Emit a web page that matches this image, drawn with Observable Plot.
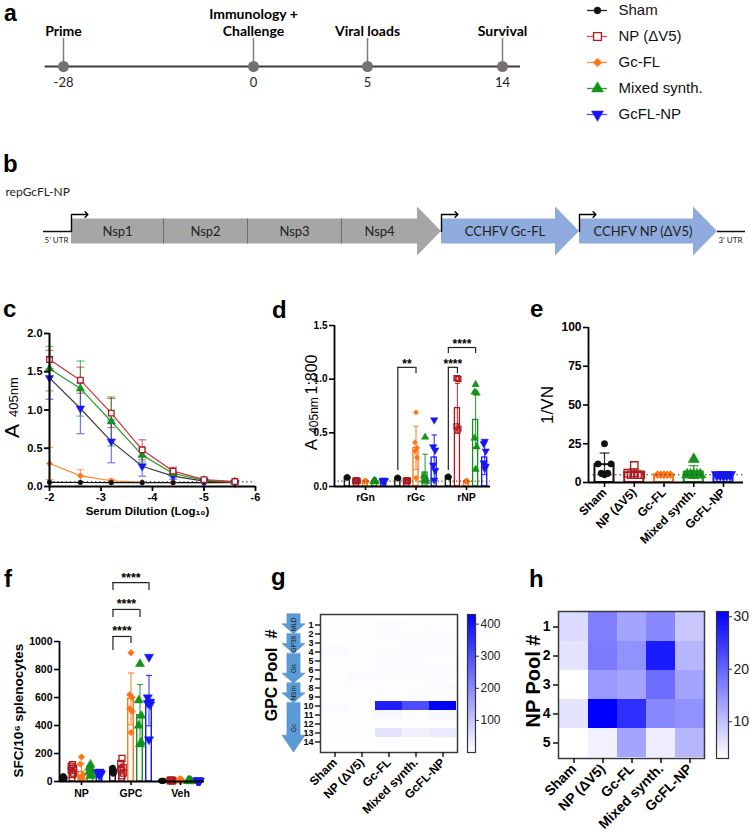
<!DOCTYPE html>
<html><head><meta charset="utf-8">
<script src="https://cdn.jsdelivr.net/npm/d3@7"></script>
<script src="https://cdn.jsdelivr.net/npm/@observablehq/plot@0.6"></script>
<style>
body{margin:0;background:#fff;}
#fig{position:relative;width:750px;height:833px;overflow:hidden;background:#fff;}
.tag{position:absolute;font:bold 24px "Liberation Sans",Arial,sans-serif;line-height:20px;color:#000;}
.tag.first{font-size:23px;line-height:26px;}
</style></head><body><div id="fig"></div>
<script>
// ================= DATA =================
const groupNames = ["Sham","NP (ΔV5)","Gc-FL","Mixed synth.","GcFL-NP"];
const groupColors = ["#111111","#b0191e","#ff7417","#13931b","#1616f5"];

// a: timeline
const timelineDays = [-28, 0, 5, 14];
const timelineEvents = ["Prime","Immunology +\nChallenge","Viral loads","Survival"];
const timelineExtent = [-30.7, 15.2];

// b: construct
const constructName = "repGcFL-NP";
const replicaseParts = ["Nsp1","Nsp2","Nsp3","Nsp4"];
const replicaseBounds = [71,163,247,341,441];
const antigenParts = ["CCHFV Gc-FL","CCHFV NP (ΔV5)"];
const antigenBounds = [441,579,717];
const utrLabels = ["5’ UTR","3’ UTR"];

// c: ELISA titration
const cDilution = [-2, -2.6, -3.2, -3.8, -4.4, -5.0, -5.6];
const cSham   = [0.055,0.052,0.05,0.05,0.05,0.05,0.055];
const cShamSd = [0,0,0,0,0,0,0];
const cNP     = [1.66,1.39,0.96,0.48,0.20,0.09,0.065];
const cNPSd   = [0.12,0.17,0.19,0.13,0.05,0.02,0.01];
const cGc     = [0.30,0.14,0.075,0.055,0.052,0.05,0.05];
const cGcSd   = [0.21,0.08,0.02,0,0,0,0];
const cMix    = [1.54,1.28,0.85,0.41,0.17,0.08,0.06];
const cMixSd  = [0.29,0.36,0.32,0.09,0.04,0.01,0.01];
const cGcNP   = [1.42,1.02,0.59,0.265,0.135,0.07,0.05];
const cGcNPSd = [0.28,0.33,0.28,0.13,0.04,0.01,0.01];
const cCutoff = 0.06;

// d: ELISA 1:800
const dGroups = ["rGn","rGc","rNP"];
const dMeanSham = [0.085,0.08,0.09];  const dSdSham = [0.01,0.01,0.012];
const dMeanNP   = [0.055,0.055,0.73]; const dSdNP   = [0.005,0.005,0.23];
const dMeanGc   = [0.05,0.36,0.05];   const dSdGc   = [0.005,0.2,0.005];
const dMeanMix  = [0.05,0.13,0.62];   const dSdMix  = [0.005,0.17,0.26];
const dMeanGcNP = [0.055,0.27,0.27];  const dSdGcNP = [0.005,0.21,0.16];
const dPtsSham = [[0.095,0.09,0.085,0.08,0.08,0.075],[0.09,0.085,0.08,0.075,0.075,0.07],[0.1,0.095,0.09,0.085,0.085,0.08]];
const dPtsNP   = [[0.06,0.055,0.055,0.05,0.05,0.05],[0.06,0.055,0.055,0.05,0.05,0.05],[1.01,1.01,1.0,0.56,0.54,0.52]];
const dPtsGc   = [[0.055,0.05,0.05,0.045,0.045,0.045],[0.69,0.41,0.36,0.33,0.27,0.08],[0.055,0.05,0.05,0.045,0.045,0.045]];
const dPtsMix  = [[0.055,0.05,0.05,0.045,0.045,0.045],[0.46,0.1,0.07,0.06,0.05,0.05],[0.95,0.88,0.87,0.45,0.37,0.16]];
const dPtsGcNP = [[0.06,0.055,0.055,0.05,0.05,0.05],[0.62,0.37,0.34,0.2,0.15,0.06],[0.42,0.4,0.33,0.22,0.19,0.17]];
const dCutoff = 0.05;
const dBrGroup = [1,2,2], dBrFrom = [0,0,0], dBrTo = [2,1,3];
const dBrY = [1.11,1.11,1.295], dBrLeft = [0.15,0.15,1.24], dBrRight = [1.05,1.05,1.24];
const dBrLabel = ["**","****","****"];

// e: neutralisation
const eMean = [11.5,6.3,5.0,6.7,5.0];
const eSd   = [7.5,2.4,0,4.1,0];
const ePtsSham = [25,12,12,6,6,5];
const ePtsNP   = [11,6,5,5,5,5];
const ePtsGc   = [5,5,5,5,5,5];
const ePtsMix  = [15,5,5,5,5,5];
const ePtsGcNP = [5,5,5,5,5,5];
const eCutoff = 5;

// f: ELISpot
const fGroups = ["NP","GPC","Veh"];
const fMeanSham = [29,77,5];    const fSdSham = [8,18,1];
const fMeanNP   = [86,97,8];    const fSdNP   = [30,45,3];
const fMeanGc   = [68,590,11];  const fSdGc   = [60,185,7];
const fMeanMix  = [77,473,4];   const fSdMix  = [30,220,2];
const fMeanGcNP = [58,578,6];   const fSdGcNP = [10,180,2];
const fPtsSham = [[40,35,30,25,22,20],[100,95,80,70,60,55],[5,5,5,5,5,5]];
const fPtsNP   = [[120,110,95,80,60,50],[165,130,100,90,60,40],[10,10,8,5,5,5]];
const fPtsGc   = [[175,125,45,30,20,15],[920,620,600,520,500,350],[20,15,10,5,5,5]];
const fPtsMix  = [[120,100,80,70,50,40],[840,580,470,400,280,265],[5,5,5,5,3,3]];
const fPtsGcNP = [[70,65,60,55,50,45],[890,600,570,560,550,300],[8,8,5,5,5,5]];
const fBrGroup = [1,1,1], fBrFrom = [0,0,0], fBrTo = [2,3,4];
const fBrY = [1036,1229,1421], fBrLeft = [936,1171,1364], fBrRight = [986,1171,1364];
const fBrLabel = ["****","****","****"];

// g: GPC pools heatmap
const gPoolLabels = ["1","2","3","4","5","6","7","8","9","10","11","12","13","14"];
const gSham = [2,3,2,8,3,2,3,3,4,6,3,2,3,2];
const gNP   = [2,2,2,2,4,4,6,3,2,3,2,4,2,2];
const gGc   = [5,6,4,5,6,8,4,5,4,380,15,4,45,3];
const gMix  = [3,4,8,5,5,8,4,5,4,300,3,3,25,3];
const gGcNP = [3,6,7,6,4,7,4,6,4,430,10,4,35,3];
const gColorDomain = [0,430];
const gColorTicks = [100,200,300,400];
const gRegionNames = ["MLD","GP38","Gn","NSm","Gc"];
const gRegionStart = [1,3,5,8,10];
const gRegionEnd   = [2,4,7,9,14];

// h: NP pools heatmap
const hPoolLabels = ["1","2","3","4","5"];
const hSham = [7,6,3,6,3];
const hNP   = [17,17.5,14,31,4.5];
const hGc   = [13,15,13,26,13];
const hMix  = [16,28,19,16,5];
const hGcNP = [9,11,13,15,11];
const hColorDomain = [3,31];
const hColorTicks = [10,20,30];

// ================= HELPERS =================
const FONT = "'Liberation Sans', Arial, Helvetica, sans-serif";
const CAL = "Lato, 'Open Sans', sans-serif";
const fig = document.getElementById("fig");
function place(node, left, top){ node.style.position="absolute"; node.style.left=left+"px"; node.style.top=top+"px"; fig.appendChild(node); }
function st(extra){ return Object.assign({background:"transparent", overflow:"visible", fontFamily:FONT, fontSize:"10px", fontWeight:"bold", color:"#000", maxWidth:"none"}, extra||{}); }
function tag(t, left, top, cls){ const d=document.createElement("div"); d.className="tag"+(cls?" "+cls:""); d.textContent=t; d.style.left=left+"px"; d.style.top=top+"px"; fig.appendChild(d); }
const S3 = Math.sqrt(3);
const symTriDown = {draw(ctx,size){const y=Math.sqrt(size/(S3*3)); ctx.moveTo(0,2*y); ctx.lineTo(-S3*y,-y); ctx.lineTo(S3*y,-y); ctx.closePath();}};
const symCap = {draw(ctx,size){const w=Math.sqrt(size)/2; ctx.moveTo(-w,0); ctx.lineTo(w,0);}};
const groupSymbols = ["circle","square","diamond2","triangle",symTriDown];
const groupFill = [true,false,true,true,true];
const symScale = [1,1.3,1.15,1.3,1.3];
function dotMark(data, s, r, extra, openFill){
  const c = groupColors[s];
  return Plot.dot(data, Object.assign({symbol:groupSymbols[s], r:r*symScale[s], fill: groupFill[s]? c : (openFill||"none"), stroke:c, strokeWidth: groupFill[s]?0.5:1.3}, extra));
}
function grouped(means, sds, pts, offset){
  const bars=[], dots=[];
  means.forEach((m,s)=>m.forEach((v,g)=>{
    const x = g + (s-2)*offset;
    bars.push({s, g, x, mean:v, lo:Math.max(0,v-sds[s][g]), hi:v+sds[s][g]});
    pts[s][g].forEach((p,k)=>dots.push({s, g, x, k, v:p}));
  }));
  return {bars, dots};
}
function brackets(gi, from, to, yTop, left, right, labels, offset, fs, dy){
  const rows = gi.map((g,i)=>({x1:g+(from[i]-2)*offset, x2:g+(to[i]-2)*offset, y:yTop[i], l:left[i], r:right[i], label:labels[i]}));
  const o = {stroke:"#222", strokeWidth:1.2};
  return [
    Plot.ruleY(rows, Object.assign({x1:"x1", x2:"x2", y:"y"}, o)),
    Plot.ruleX(rows, Object.assign({x:"x1", y1:"l", y2:"y"}, o)),
    Plot.ruleX(rows, Object.assign({x:"x2", y1:"r", y2:"y"}, o)),
    Plot.text(rows, {x:d=>(d.x1+d.x2)/2, y:"y", text:"label", dy, fontSize:fs, fontWeight:"bold", lineAnchor:"middle"})
  ];
}
function errMarks(bars, r, opacity){
  const c = d=>groupColors[d.s];
  const o = {stroke:c, strokeOpacity:opacity, strokeWidth:1.2};
  const e = bars.filter(d=>d.hi-d.lo>1e-9);
  return [
    Plot.ruleX(e, Object.assign({x:"x", y1:"lo", y2:"hi"}, o)),
    Plot.dot(e, Object.assign({x:"x", y:"hi", symbol:symCap, r}, o)),
    Plot.dot(e, Object.assign({x:"x", y:"lo", symbol:symCap, r}, o))
  ];
}
function vTitle(t, anchor, dx, dy, fontSize, fontWeight){
  return Plot.text([t], {text:d=>d, frameAnchor:anchor, textAnchor:"middle", lineAnchor:"middle", dx, dy, rotate:-90, fontSize, fontWeight});
}

// ================= PANEL a =================
{
  const tScale = d3.scaleLinear().domain(timelineDays).range([63,253,367,502]);
  place(Plot.plot({
    width:560, height:100, margin:0,
    x:{type:"identity", axis:null},
    y:{type:"identity", axis:null},
    style:st({fontFamily:CAL}),
    marks:[
      Plot.ruleX(timelineDays, {x:d=>tScale(d), y1:38, y2:66, stroke:"#7f7f7f", strokeWidth:1.5}),
      Plot.ruleY([66], {x1:tScale(timelineExtent[0]), x2:tScale(timelineExtent[1]), stroke:"#3b3b3b", strokeWidth:2}),
      Plot.dot(timelineDays, {x:d=>tScale(d), y:66, r:5.5, fill:"#767171", stroke:"none"}),
      Plot.text(timelineEvents, {x:(d,i)=>tScale(timelineDays[i]), y:35, text:d=>d, lineAnchor:"bottom", fontSize:14, fontWeight:"bold", lineHeight:1.2, fill:"#000"}),
      Plot.text(timelineDays, {x:d=>tScale(d), y:82, text:d=>String(d), fontSize:13, fontWeight:"normal", fill:"#222"})
    ]
  }), 0, 0);
}

// legend
place(Plot.plot({
  width:170, height:125, margin:0,
  x:{domain:[0,1], range:[7,27], axis:null},
  y:{type:"point", domain:groupNames, range:[9,114], padding:0, axis:null},
  style:st({fontWeight:"normal"}),
  marks:[
    Plot.ruleY(groupNames, {y:d=>d, x1:0, x2:1, stroke:(d,i)=>["#222","#d04a4a","#ff8a3a","#2a9d2a","#5050ff"][i], strokeWidth:1.3}),
    ...groupNames.map((n,s)=>dotMark([n], s, 3.4, {x:0.5, y:d=>d}, "white")),
    Plot.text(groupNames, {x:1, y:d=>d, dx:11, text:d=>d, textAnchor:"start", fontSize:15, fontWeight:"normal", fill:"#111"})
  ]
}), 580, 0);
tag("a", 4, 0, "first");

// ================= PANEL b =================
{
  const arrows = [];
  const starts = [replicaseBounds[0], antigenBounds[0], antigenBounds[1]];
  const ends = [replicaseBounds[replicaseBounds.length-1], antigenBounds[1], antigenBounds[2]];
  const c = 81;
  starts.forEach((a,i)=>{
    const e = ends[i];
    arrows.push({z:i,x:a,y1:c-12.5,y2:c+12.5},{z:i,x:e-24,y1:c-12.5,y2:c+12.5},{z:i,x:e-24,y1:c-24.5,y2:c+24.5},{z:i,x:e,y1:c,y2:c});
  });
  const fills = ["#a6a6a6","#8faadc","#8faadc"];
  const prom = starts.flatMap((a,i)=>[{z:i,x:a,y:c},{z:i,x:a,y:c-17},{z:i,x:a+15,y:c-17}]);
  const repLabels = replicaseParts.map((n,i)=>({n, x: i<3 ? (replicaseBounds[i]+replicaseBounds[i+1])/2 : (replicaseBounds[i]+replicaseBounds[i+1]-24)/2}));
  const agLabels = antigenParts.map((n,i)=>({n, x: antigenBounds[i] + 0.46*(antigenBounds[i+1]-antigenBounds[i])}));
  place(Plot.plot({
    width:750, height:120, margin:0,
    x:{domain:[0,750], range:[0,750], axis:null},
    y:{domain:[0,120], range:[0,120], axis:null},
    style:st({fontFamily:CAL, fontWeight:"normal"}),
    marks:[
      Plot.text([constructName], {x:5, y:42, text:d=>d, textAnchor:"start", fontSize:12, fill:"#222"}),
      Plot.ruleY([c], {x1:43, x2:starts[0], stroke:"#111", strokeWidth:1.5}),
      Plot.ruleY([c], {x1:ends[2], x2:745, stroke:"#111", strokeWidth:1.5}),
      ...[0,1,2].map(i=>Plot.area(arrows.filter(d=>d.z===i), {x1:"x", x2:"x", y1:"y1", y2:"y2", fill:fills[i]})),
      Plot.ruleX(replicaseBounds.slice(1,4), {x:d=>d, y1:c-12.5, y2:c+12.5, stroke:"#6e6e6e", strokeWidth:1}),
      Plot.line(prom, {x:"x", y:"y", z:"z", stroke:"#000", strokeWidth:1.4, markerEnd:"arrow"}),
      Plot.text(repLabels, {x:"x", y:c, text:"n", fontSize:13, fill:"#222"}),
      Plot.text(agLabels, {x:"x", y:c, text:"n", fontSize:13, fill:"#222"}),
      Plot.text([utrLabels[0]], {x:56, y:90, text:d=>d, fontSize:8, fill:"#222"}),
      Plot.text([utrLabels[1]], {x:730, y:90, text:d=>d, fontSize:8, fill:"#222"})
    ]
  }), 0, 150);
}
tag("b", 3, 154);

// ================= PANEL c =================
{
  const ms = [cSham,cNP,cGc,cMix,cGcNP], sds = [cShamSd,cNPSd,cGcSd,cMixSd,cGcNPSd];
  const lineCol = ["#111","#d03236","#ff7f27","#2a9d2a","#3c3c3c"];
  const rows = ms.flatMap((m,s)=>cDilution.map((x,i)=>({s, x, y:m[i], lo:Math.max(0,m[i]-sds[s][i]), hi:m[i]+sds[s][i]})));
  const order = [2,0,4,3,1];
  place(Plot.plot({
    width:280, height:240, marginLeft:49, marginRight:25, marginTop:43, marginBottom:44,
    x:{domain:[-2,-6]}, y:{domain:[0,2]}, color:{type:"identity"},
    style:st({fontSize:"11px"}),
    marks:[
      Plot.ruleY([cCutoff], {x1:-2, x2:-6, stroke:"#222", strokeDasharray:"1.2,3", strokeWidth:1.3}),
      ...errMarks(rows, 4.5, 0.6),
      ...order.map(s=>Plot.line(rows.filter(d=>d.s===s), {x:"x", y:"y", stroke:lineCol[s], strokeWidth:1.2})),
      ...order.map(s=>dotMark(rows.filter(d=>d.s===s), s, 2.4, {x:"x", y:"y"}, "white")),
      Plot.ruleX([-2], {y1:0, y2:2, stroke:"#000", strokeWidth:2}),
      Plot.ruleY([0], {stroke:"#000", strokeWidth:2}),
      Plot.axisY({ticks:[0,0.5,1,1.5,2], tickFormat:d3.format(".1f"), tickSize:5, tickPadding:2, strokeWidth:1.8, label:null}),
      Plot.axisX({ticks:[-2,-3,-4,-5,-6], tickFormat:d=>String(d), tickSize:5, tickPadding:2, strokeWidth:1.8, label:null}),
      Plot.text(["Serum Dilution (Log₁₀)"], {text:d=>d, frameAnchor:"bottom", dx:-5, dy:28, fontSize:11.5, fontWeight:"bold"}),
      vTitle("A", "left", -37, 21, 21, "normal"),
      vTitle("405nm", "left", -36, -13, 13, "normal")
    ]
  }), 0, 290);
}
tag("c", 3, 299);

// ================= PANEL d =================
{
  const off = 0.18, half = 0.05;
  const {bars, dots} = grouped([dMeanSham,dMeanNP,dMeanGc,dMeanMix,dMeanGcNP],[dSdSham,dSdNP,dSdGc,dSdMix,dSdGcNP],[dPtsSham,dPtsNP,dPtsGc,dPtsMix,dPtsGcNP], off);
  const jit = [0,-0.02,0.02,-0.02,0.02,0];
  dots.forEach(d=>d.px = d.x + jit[d.k]);
  place(Plot.plot({
    width:240, height:230, marginLeft:54, marginRight:30, marginTop:35, marginBottom:34,
    x:{domain:[-0.614,2.475]}, y:{domain:[0,1.5]}, color:{type:"identity"},
    style:st(),
    marks:[
      Plot.rect(bars, {x1:d=>d.x-half, x2:d=>d.x+half, y1:0, y2:"mean", fill:"white", stroke:d=>groupColors[d.s], strokeWidth:1.3}),
      ...errMarks(bars, 3, 0.8),
      ...[0,1,2,3,4].map(s=>dotMark(dots.filter(d=>d.s===s), s, 2.1, {x:"px", y:"v"})),
      Plot.ruleY([dCutoff], {stroke:"#444", strokeDasharray:"1.2,2.5", strokeWidth:1.1}),
      ...brackets(dBrGroup, dBrFrom, dBrTo, dBrY, dBrLeft, dBrRight, dBrLabel, off, 12, -3),
      Plot.ruleX([-0.614], {y1:0, y2:1.5, stroke:"#000", strokeWidth:1.8}),
      Plot.ruleY([0], {stroke:"#000", strokeWidth:1.8}),
      Plot.axisY({ticks:[0,0.5,1,1.5], tickFormat:d3.format(".1f"), tickSize:5, tickPadding:2, strokeWidth:1.6, label:null}),
      Plot.axisX({ticks:[0,1,2], tickFormat:i=>dGroups[i], tickSize:4, tickPadding:3, strokeWidth:1.6, label:null, fontSize:10.5}),
      vTitle("A", "top-left", -23, 119, 17, "normal"),
      vTitle("405nm", "top-left", -20, 90, 12, "normal"),
      vTitle("1:800", "top-left", -22.5, 49, 16, "normal")
    ]
  }), 280, 290);
}
tag("d", 272, 300);

// ================= PANEL e =================
{
  const pts = [ePtsSham,ePtsNP,ePtsGc,ePtsMix,ePtsGcNP];
  const half = 0.32;
  const bars = eMean.map((m,s)=>({s, x:s, mean:m, lo:Math.max(0,m-eSd[s]), hi:m+eSd[s]}));
  const jit = [0,-0.22,0.22,-0.11,0.11,0];
  const dots = pts.flatMap((arr,s)=>arr.map((v,k)=>({s, v, px:s+jit[k]})));
  place(Plot.plot({
    width:240, height:260, marginLeft:78, marginRight:7, marginTop:37, marginBottom:68,
    x:{domain:[-0.538,4.672]}, y:{domain:[0,100]}, color:{type:"identity"},
    style:st({fontSize:"12px"}),
    marks:[
      Plot.rect(bars, {x1:d=>d.x-half, x2:d=>d.x+half, y1:0, y2:"mean", fill:"white", stroke:d=>groupColors[d.s], strokeWidth:2}),
      ...errMarks(bars, 5.5, 0.9),
      ...[0,1,2,3,4].map(s=>dotMark(dots.filter(d=>d.s===s), s, 3.2, {x:"px", y:"v"})),
      Plot.ruleY([eCutoff], {stroke:"#333", strokeDasharray:"1.5,3", strokeWidth:1.2}),
      Plot.ruleX([-0.538], {y1:0, y2:100, stroke:"#000", strokeWidth:1.8}),
      Plot.ruleY([0], {stroke:"#000", strokeWidth:1.8}),
      Plot.axisY({ticks:[0,25,50,75,100], tickSize:5, tickPadding:2, strokeWidth:1.6, label:null}),
      Plot.axisX({ticks:[0,1,2,3,4], tickFormat:i=>groupNames[i], tickRotate:-45, tickSize:5, tickPadding:3, strokeWidth:1.6, label:null, fontSize:12}),
      vTitle("1/VN", "left", -41, 0, 17, "normal")
    ]
  }), 510, 290);
}
tag("e", 530, 299);

// ================= PANEL f =================
{
  const off = 0.182, half = 0.056;
  const {bars, dots} = grouped([fMeanSham,fMeanNP,fMeanGc,fMeanMix,fMeanGcNP],[fSdSham,fSdNP,fSdGc,fSdMix,fSdGcNP],[fPtsSham,fPtsNP,fPtsGc,fPtsMix,fPtsGcNP], off);
  const jit = [0,-0.025,0.025,-0.025,0.025,0];
  dots.forEach(d=>d.px = d.x + jit[d.k]);
  place(Plot.plot({
    width:260, height:300, marginLeft:59, marginRight:56, marginTop:111, marginBottom:49,
    x:{domain:[-0.444,2.485]}, y:{domain:[0,1000]}, color:{type:"identity"},
    style:st({fontSize:"10.5px"}),
    marks:[
      Plot.rect(bars, {x1:d=>d.x-half, x2:d=>d.x+half, y1:0, y2:"mean", fill:"white", stroke:d=>groupColors[d.s], strokeWidth:1.4}),
      ...errMarks(bars, 3.5, 0.8),
      ...[0,1,2,3,4].map(s=>dotMark(dots.filter(d=>d.s===s), s, 2.6, {x:"px", y:"v"})),
      ...brackets(fBrGroup, fBrFrom, fBrTo, fBrY, fBrLeft, fBrRight, fBrLabel, off, 12.5, -5),
      Plot.ruleX([-0.444], {y1:0, y2:1000, stroke:"#000", strokeWidth:1.8}),
      Plot.ruleY([0], {stroke:"#000", strokeWidth:1.8}),
      Plot.axisY({ticks:[0,200,400,600,800,1000], tickFormat:d=>String(d), tickSize:5, tickPadding:2, strokeWidth:1.6, label:null}),
      Plot.axisX({ticks:[0,1,2], tickFormat:i=>fGroups[i], tickSize:4, tickPadding:4, strokeWidth:1.6, label:null}),
      vTitle("SFC/10⁶ splenocytes", "left", -41, -1, 13.5, "bold")
    ]
  }), 0, 530);
}
tag("f", 4, 569);

// ================= PANEL g =================
{
  const cols = [gSham,gNP,gGc,gMix,gGcNP];
  const rows = cols.flatMap((col,s)=>col.map((v,i)=>({group:groupNames[s], pool:gPoolLabels[i], v})));
  place(Plot.plot({
    width:250, height:300, marginLeft:70, marginRight:43, marginTop:84, marginBottom:78,
    x:{type:"band", domain:groupNames, padding:0}, y:{type:"band", domain:gPoolLabels, padding:0},
    color:{type:"linear", domain:gColorDomain, range:["#ffffff","#0000ff"], interpolate:"rgb"},
    style:st(),
    marks:[
      Plot.cell(rows, {x:"group", y:"pool", fill:"v", inset:0, shapeRendering:"crispEdges"}),
      Plot.frame({stroke:"#3a3a3a", strokeWidth:1.5}),
      Plot.axisY({tickSize:5, tickPadding:2, strokeWidth:1.3, label:null, fontSize:9}),
      Plot.axisX({tickRotate:-45, tickSize:5, tickPadding:3, strokeWidth:1.3, label:null, fontSize:12}),
      vTitle("GPC Pool  #", "left", -49, -8, 16, "bold")
    ]
  }), 250, 530);

  const arr = [];
  gRegionNames.forEach((n,i)=>{
    const top = gRegionStart[i]-0.5, end = gRegionEnd[i]+0.5, head = i===gRegionNames.length-1 ? 1.7 : 1.0;
    arr.push({z:n,y:top,x1:-0.57,x2:0.57},{z:n,y:end-head,x1:-0.57,x2:0.57},{z:n,y:end-head,x1:-1,x2:1},{z:n,y:end,x1:0,x2:0});
  });
  const labs = gRegionNames.map((n,i)=>({n, y:(gRegionStart[i]+gRegionEnd[i])/2}));
  place(Plot.plot({
    width:30, height:170, marginLeft:3, marginRight:4, marginTop:14, marginBottom:18,
    x:{domain:[-1,1], axis:null}, y:{domain:[0.5,14.5], reverse:true, axis:null},
    style:st({fontWeight:"normal"}),
    marks:[
      ...gRegionNames.map(n=>Plot.area(arr.filter(d=>d.z===n), {y1:"y", y2:"y", x1:"x1", x2:"x2", fill:"#5b9bd5", stroke:"#4f8cc6", strokeWidth:0.6})),
      Plot.text(labs, {x:0, y:"y", text:"n", rotate:-90, fontSize:6.5, fill:"#1a1a1a"})
    ]
  }), 279, 600);

  const n=140, step=(gColorDomain[1]-gColorDomain[0])/n;
  const steps = d3.range(n).map(i=>gColorDomain[0]+i*step);
  place(Plot.plot({
    width:50, height:170, marginLeft:12, marginRight:30, marginTop:14, marginBottom:18,
    x:{domain:[0,1], axis:null}, y:{domain:gColorDomain},
    color:{type:"linear", domain:gColorDomain, range:["#ffffff","#0000ff"], interpolate:"rgb"},
    style:st({fontWeight:"normal"}),
    marks:[
      Plot.rect(steps, {x1:0, x2:1, y1:d=>d, y2:d=>d+step*1.05, fill:d=>d+step/2, shapeRendering:"crispEdges"}),
      Plot.frame({stroke:"#333", strokeWidth:1.2}),
      Plot.axisY({anchor:"right", ticks:gColorTicks, tickSize:3, tickPadding:2, fontSize:12, fontWeight:"normal", stroke:"#333", fill:"#222", label:null})
    ]
  }), 455, 600);
}
tag("g", 271, 567);

// ================= PANEL h =================
{
  const cols = [hSham,hNP,hGc,hMix,hGcNP];
  const rows = cols.flatMap((col,s)=>col.map((v,i)=>({group:groupNames[s], pool:hPoolLabels[i], v})));
  place(Plot.plot({
    width:260, height:300, marginLeft:68, marginRight:46, marginTop:81, marginBottom:72,
    x:{type:"band", domain:groupNames, padding:0}, y:{type:"band", domain:hPoolLabels, padding:0},
    color:{type:"linear", domain:hColorDomain, range:["#ffffff","#0000ff"], interpolate:"rgb"},
    style:st(),
    marks:[
      Plot.cell(rows, {x:"group", y:"pool", fill:"v", inset:0, shapeRendering:"crispEdges"}),
      Plot.frame({stroke:"#3a3a3a", strokeWidth:1.5}),
      Plot.axisY({tickSize:5, tickPadding:3, strokeWidth:1.4, label:null, fontSize:14}),
      Plot.axisX({tickRotate:-45, tickSize:5, tickPadding:3, strokeWidth:1.4, label:null, fontSize:14}),
      vTitle("NP Pool #", "left", -25, -4, 20, "bold")
    ]
  }), 490, 530);

  const n=140, step=(hColorDomain[1]-hColorDomain[0])/n;
  const steps = d3.range(n).map(i=>hColorDomain[0]+i*step);
  place(Plot.plot({
    width:45, height:170, marginLeft:11, marginRight:22, marginTop:11, marginBottom:12,
    x:{domain:[0,1], axis:null}, y:{domain:hColorDomain},
    color:{type:"linear", domain:hColorDomain, range:["#ffffff","#0000ff"], interpolate:"rgb"},
    style:st({fontWeight:"normal"}),
    marks:[
      Plot.rect(steps, {x1:0, x2:1, y1:d=>d, y2:d=>d+step*1.05, fill:d=>d+step/2, shapeRendering:"crispEdges"}),
      Plot.frame({stroke:"#333", strokeWidth:1.2}),
      Plot.axisY({anchor:"right", ticks:hColorTicks, tickSize:3, tickPadding:2, fontSize:14, fontWeight:"normal", stroke:"#333", fill:"#222", label:null})
    ]
  }), 705, 600);
}
tag("h", 529, 569);
</script></body></html>
